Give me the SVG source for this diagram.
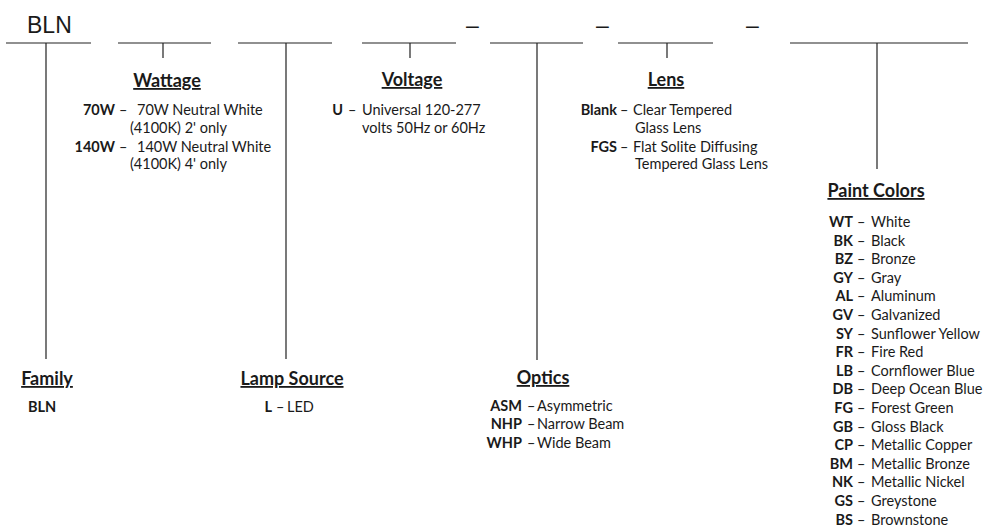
<svg xmlns="http://www.w3.org/2000/svg" width="987" height="527" viewBox="0 0 987 527">
<style>
  text { font-family: Lato, "Open Sans", "Liberation Sans", sans-serif; fill: #1a1a1a; }
  .hdr { font-family: "Liberation Sans", Arial, sans-serif; font-size: 23px; }
  .h { font-size: 18px; font-weight: bold; text-anchor: middle; text-decoration: underline; }
  .t { font-size: 14.5px; }
  .c { font-size: 14.5px; font-weight: bold; text-anchor: end; }
  .ln { stroke: #222; stroke-width: 1.2; fill: none; }
</style>
<rect width="987" height="527" fill="#fff"/>
<g id="connectors" class="ln">
  <path class="ln" d="M6 43H91M118 43H211M238 43H332M362 43H456M490 43H583M618 43H713M790 43H968"/>
  <path class="ln" d="M46 43V359M163 43V58M286 43V359M410 43V58M537 43V360M667 43V58M877 43V169"/>
</g>
<g id="header">
  <text class="hdr" x="27" y="33">BLN</text>
  <text class="hdr" x="466" y="33">–</text>
  <text class="hdr" x="596" y="33">–</text>
  <text class="hdr" x="746" y="33">–</text>
</g>
<g id="family">
  <text class="h" x="47" y="385">Family</text>
  <text class="t" x="28" y="412" font-weight="bold">BLN</text>
</g>
<g id="wattage">
  <text class="h" x="167" y="87">Wattage</text>
  <text class="c" x="115" y="115">70W</text><text class="t" x="119" y="115">–</text><text class="t" x="137" y="115">70W Neutral White</text>
  <text class="t" x="130" y="133">(4100K) 2' only</text>
  <text class="c" x="115" y="152">140W</text><text class="t" x="119" y="152">–</text><text class="t" x="137" y="152">140W Neutral White</text>
  <text class="t" x="130" y="169">(4100K) 4' only</text>
</g>
<g id="lamp-source">
  <text class="h" x="292" y="385">Lamp Source</text>
  <text class="c" x="272" y="412">L</text><text class="t" x="276" y="412">–</text><text class="t" x="287" y="412">LED</text>
</g>
<g id="voltage">
  <text class="h" x="412" y="86">Voltage</text>
  <text class="c" x="343" y="115">U</text><text class="t" x="348" y="115">–</text><text class="t" x="362" y="115">Universal 120-277</text>
  <text class="t" x="362" y="133">volts 50Hz or 60Hz</text>
</g>
<g id="optics">
  <text class="h" x="543" y="384">Optics</text>
  <text class="c" x="522" y="411">ASM</text><text class="t" x="527" y="411">–</text><text class="t" x="537" y="411">Asymmetric</text>
  <text class="c" x="522" y="429">NHP</text><text class="t" x="527" y="429">–</text><text class="t" x="537" y="429">Narrow Beam</text>
  <text class="c" x="522" y="448">WHP</text><text class="t" x="527" y="448">–</text><text class="t" x="537" y="448">Wide Beam</text>
</g>
<g id="lens">
  <text class="h" x="666" y="86">Lens</text>
  <text class="c" x="617" y="115">Blank</text><text class="t" x="620" y="115">–</text><text class="t" x="633" y="115">Clear Tempered</text>
  <text class="t" x="635" y="133">Glass Lens</text>
  <text class="c" x="617" y="152">FGS</text><text class="t" x="620" y="152">–</text><text class="t" x="633" y="152">Flat Solite Diffusing</text>
  <text class="t" x="635" y="169">Tempered Glass Lens</text>
</g>
<g id="paint-colors">
  <text class="h" x="876" y="197">Paint Colors</text>
  <g class="t">
    <text class="c" x="853" y="227">WT</text><text class="t" x="857" y="227">–</text><text class="t" x="871" y="227">White</text>
    <text class="c" x="853" y="245.6">BK</text><text class="t" x="857" y="245.6">–</text><text class="t" x="871" y="245.6">Black</text>
    <text class="c" x="853" y="264.2">BZ</text><text class="t" x="857" y="264.2">–</text><text class="t" x="871" y="264.2">Bronze</text>
    <text class="c" x="853" y="282.8">GY</text><text class="t" x="857" y="282.8">–</text><text class="t" x="871" y="282.8">Gray</text>
    <text class="c" x="853" y="301.4">AL</text><text class="t" x="857" y="301.4">–</text><text class="t" x="871" y="301.4">Aluminum</text>
    <text class="c" x="853" y="320">GV</text><text class="t" x="857" y="320">–</text><text class="t" x="871" y="320">Galvanized</text>
    <text class="c" x="853" y="338.6">SY</text><text class="t" x="857" y="338.6">–</text><text class="t" x="871" y="338.6">Sunflower Yellow</text>
    <text class="c" x="853" y="357.2">FR</text><text class="t" x="857" y="357.2">–</text><text class="t" x="871" y="357.2">Fire Red</text>
    <text class="c" x="853" y="375.8">LB</text><text class="t" x="857" y="375.8">–</text><text class="t" x="871" y="375.8">Cornflower Blue</text>
    <text class="c" x="853" y="394.4">DB</text><text class="t" x="857" y="394.4">–</text><text class="t" x="871" y="394.4">Deep Ocean Blue</text>
    <text class="c" x="853" y="413">FG</text><text class="t" x="857" y="413">–</text><text class="t" x="871" y="413">Forest Green</text>
    <text class="c" x="853" y="431.6">GB</text><text class="t" x="857" y="431.6">–</text><text class="t" x="871" y="431.6">Gloss Black</text>
    <text class="c" x="853" y="450.2">CP</text><text class="t" x="857" y="450.2">–</text><text class="t" x="871" y="450.2">Metallic Copper</text>
    <text class="c" x="853" y="468.8">BM</text><text class="t" x="857" y="468.8">–</text><text class="t" x="871" y="468.8">Metallic Bronze</text>
    <text class="c" x="853" y="487.4">NK</text><text class="t" x="857" y="487.4">–</text><text class="t" x="871" y="487.4">Metallic Nickel</text>
    <text class="c" x="853" y="506">GS</text><text class="t" x="857" y="506">–</text><text class="t" x="871" y="506">Greystone</text>
    <text class="c" x="853" y="524.6">BS</text><text class="t" x="857" y="524.6">–</text><text class="t" x="871" y="524.6">Brownstone</text>
  </g>
</g>
</svg>
